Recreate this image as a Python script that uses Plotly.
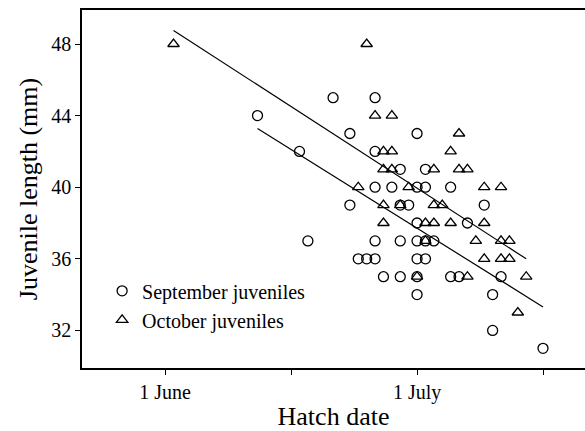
import plotly.graph_objects as go

# Hatch date as days after 1 June; juvenile length in mm
sep_day = [20, 25, 11, 22, 30, 16, 25, 28, 31, 25, 27, 30, 31, 34, 22, 28, 29, 38,
           30, 36, 17, 25, 28, 30, 31, 32, 23, 24, 25, 30, 31, 26, 28, 30, 34, 35,
           40, 30, 39, 39, 45]
sep_len = [45, 45, 44, 43, 43, 42, 42, 41, 41, 40, 40, 40, 40, 40, 39, 39, 39, 39,
           38, 38, 37, 37, 37, 37, 37, 37, 36, 36, 36, 36, 36, 35, 35, 35, 35, 35,
           35, 34, 34, 32, 31]

oct_day = [1, 24, 25, 27, 35, 26, 27, 34, 26, 27, 32, 35, 36, 23, 29, 38, 40,
           26, 28, 32, 33, 26, 31, 32, 34, 38, 31, 37, 40, 41, 38, 40, 41,
           30, 36, 43, 42]
oct_len = [48, 48, 44, 44, 43, 42, 42, 42, 41, 41, 41, 41, 41, 40, 40, 40, 40,
           39, 39, 39, 39, 38, 38, 38, 38, 38, 37, 37, 37, 37, 36, 36, 36,
           35, 35, 35, 33]

# Fitted regression lines (intercept at 1 June, slope per day)
sep_fit = (46.51, -0.2933)
oct_fit = (49.06, -0.3038)

tick_days = [0, 15, 30, 45]
tick_text = ["1 June", "", "1 July", ""]
y_ticks = [32, 36, 40, 44, 48]

SERIF = "Liberation Serif, Times New Roman, serif"

fig = go.Figure()

fig.add_trace(go.Scatter(
    x=sep_day, y=sep_len, mode="markers", name="September juveniles",
    marker=dict(symbol="circle-open", size=10, color="black", line=dict(width=1.3)),
))
fig.add_trace(go.Scatter(
    x=oct_day, y=oct_len, mode="markers", name="October juveniles",
    marker=dict(symbol="triangle-up-open", size=10, color="black", line=dict(width=1.3)),
))

for days, (b0, b1) in ((oct_day, oct_fit), (sep_day, sep_fit)):
    x0, x1 = min(days), max(days)
    fig.add_trace(go.Scatter(
        x=[x0, x1], y=[b0 + b1 * x0, b0 + b1 * x1], mode="lines",
        line=dict(color="black", width=1.2), showlegend=False, hoverinfo="skip",
    ))

fig.update_layout(
    width=585, height=431,
    margin=dict(l=82, r=0, t=10, b=63),
    paper_bgcolor="white", plot_bgcolor="white",
    font=dict(family=SERIF, color="black", size=20),
    showlegend=True,
    legend=dict(
        x=0.04, y=0.27, xanchor="left", yanchor="top",
        bgcolor="rgba(0,0,0,0)", font=dict(size=20), tracegroupgap=0,
        itemwidth=30,
    ),
)

fig.update_xaxes(
    range=[-9.9, 50], tickmode="array", tickvals=tick_days, ticktext=tick_text,
    showline=True, linecolor="black", linewidth=1.5, mirror=True,
    ticks="outside", ticklen=5, tickcolor="black", showgrid=False, zeroline=False,
    title=dict(text="Hatch date", font=dict(size=26), standoff=8),
    tickfont=dict(size=20),
)
fig.update_yaxes(
    range=[29.9, 49.9], tickmode="array", tickvals=y_ticks,
    showline=True, linecolor="black", linewidth=1.5, mirror=False,
    ticks="outside", ticklen=5, tickcolor="black", showgrid=False, zeroline=False,
    title=dict(text="Juvenile length (mm)", font=dict(size=26), standoff=6),
    tickfont=dict(size=20),
)

fig.write_html("out.html")
